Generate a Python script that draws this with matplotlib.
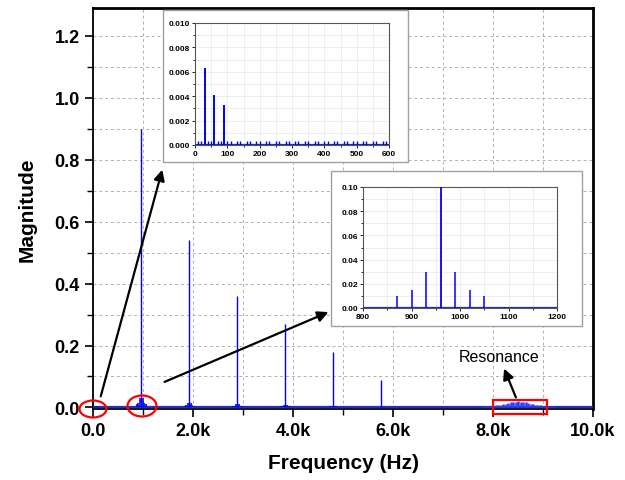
import matplotlib
matplotlib.use('Agg')
import matplotlib.pyplot as plt
import numpy as np
from matplotlib.patches import Rectangle, Ellipse, FancyArrowPatch
from matplotlib.ticker import MultipleLocator, FuncFormatter

plt.rcParams['font.family'] = ['Liberation Sans', 'DejaVu Sans']

# harmonic peaks (Hz, magnitude)
harm_freq = [960, 1920, 2880, 3840, 4800, 5760]
harm_mag = [0.90, 0.54, 0.36, 0.27, 0.18, 0.09]

# sidebands around each harmonic at these offsets
sb_offset = [-90, -60, -30, 30, 60, 90]
sb_mag = [
    [0.010, 0.015, 0.030, 0.030, 0.015, 0.010],
    [0.006, 0.009, 0.015, 0.015, 0.009, 0.006],
    [0.004, 0.006, 0.010, 0.010, 0.006, 0.004],
    [0.004, 0.006, 0.009, 0.009, 0.006, 0.004],
    [0.003, 0.004, 0.006, 0.006, 0.004, 0.003],
    [0.001, 0.002, 0.003, 0.003, 0.002, 0.001],
]

# low frequency lines
low_freq = [30, 60, 90]
low_mag = [0.0063, 0.0041, 0.0033]
comb_freq = [10, 20, 40, 50, 70, 80, 100, 110, 130, 140, 160, 170, 190, 200,
             220, 230, 250, 260, 280, 290, 310, 320, 340, 350, 370, 380, 400,
             410, 430, 440, 460, 470, 490, 500, 520, 530, 550, 560, 580, 590]
comb_mag = 0.0003

# resonance hump
res_freq = np.arange(7500, 9701, 50)
res_mag = [0.002, 0.002, 0.0025, 0.0025, 0.003, 0.003, 0.0035, 0.004, 0.0045,
           0.005, 0.006, 0.007, 0.008, 0.009, 0.011, 0.012, 0.014, 0.016,
           0.018, 0.019, 0.020, 0.019, 0.018, 0.016, 0.014, 0.012, 0.011,
           0.009, 0.008, 0.007, 0.006, 0.005, 0.0045, 0.004, 0.0035, 0.003,
           0.003, 0.0025, 0.0025, 0.002, 0.002, 0.002, 0.0015, 0.0015, 0.0015]

baseline_freq = [0, 10000]
baseline_mag = [0, 0]

W, H = 625, 481
fig = plt.figure(figsize=(6.25, 4.81), dpi=100)


def px(x, y):
    return x / W, 1 - y / H


def draw_spectrum(a, lw_main, lw_side):
    a.plot(baseline_freq, baseline_mag, color='#1f2fbf', lw=1.6, zorder=3)
    a.vlines(harm_freq, 0, harm_mag, color='#0000ff', lw=lw_main, zorder=4)
    for f0, mags in zip(harm_freq, sb_mag):
        a.vlines([f0 + o for o in sb_offset], 0, mags, color='#0000ff', lw=lw_side, zorder=4)
    a.vlines(low_freq, 0, low_mag, color='#0000ff', lw=lw_main, zorder=4)
    a.vlines(comb_freq, 0, comb_mag, color='#0000ff', lw=lw_side, zorder=4)
    a.vlines(res_freq, 0, res_mag, color='#2a3cff', lw=1.8, zorder=4)


# main axes
ax = fig.add_axes([93 / W, 1 - 410 / H, 500 / W, 401 / H])
draw_spectrum(ax, 1.0, 1.2)
ax.set_xlim(0, 10000)
ax.set_ylim(-0.005, 1.29)
ax.xaxis.set_major_locator(MultipleLocator(2000))
ax.xaxis.set_minor_locator(MultipleLocator(1000))
ax.yaxis.set_major_locator(MultipleLocator(0.2))
ax.yaxis.set_minor_locator(MultipleLocator(0.1))
ax.xaxis.set_major_formatter(FuncFormatter(lambda v, p: '0.0' if v == 0 else f'{v / 1000:.1f}k'))
ax.yaxis.set_major_formatter(FuncFormatter(lambda v, p: f'{v:.1f}'))
ax.grid(which='both', ls=(0, (3, 3)), color='#b0b0b0', lw=0.7)
ax.set_axisbelow(True)
ax.tick_params(which='major', direction='out', length=6, width=1.2, labelsize=13)
ax.tick_params(which='minor', direction='out', length=4, width=1.0)
for lab in ax.get_xticklabels() + ax.get_yticklabels():
    lab.set_fontweight('bold')
for s in ['left', 'bottom']:
    ax.spines[s].set_linewidth(1.3)
for s in ['top', 'right']:
    ax.spines[s].set_linewidth(2.0)
ax.set_xlabel('Frequency (Hz)', fontsize=15, fontweight='bold', labelpad=10)
ax.set_ylabel('Magnitude', fontsize=15, fontweight='bold', labelpad=13)
ax.set_zorder(0)

# inset frames
for x0, y0, x1, y1 in [(163, 11, 408, 163), (331, 172, 582, 327)]:
    (fx0, fy1), (fx1, fy0) = px(x0, y0), px(x1, y1)
    r = Rectangle((fx0, fy0), fx1 - fx0, fy1 - fy0, transform=fig.transFigure,
                  facecolor='white', edgecolor='#a0a0a0', lw=1.0, zorder=1)
    fig.add_artist(r)


def style_inset(a):
    a.tick_params(which='both', direction='out', length=2, width=0.6, labelsize=6, pad=1.5)
    a.tick_params(which='minor', length=1.2)
    for lab in a.get_xticklabels() + a.get_yticklabels():
        lab.set_fontweight('bold')
    for s in a.spines.values():
        s.set_color('#555555')
        s.set_linewidth(0.8)
    a.grid(which='both', color='#e8e8e8', lw=0.5)
    a.set_axisbelow(True)
    a.set_zorder(2)


# inset 1: low frequency
ax1 = fig.add_axes([195 / W, 1 - 146 / H, 194 / W, 122 / H])
draw_spectrum(ax1, 1.4, 1.0)
ax1.set_xlim(0, 600)
ax1.set_ylim(0, 0.010)
ax1.xaxis.set_major_locator(MultipleLocator(100))
ax1.xaxis.set_minor_locator(MultipleLocator(50))
ax1.yaxis.set_major_locator(MultipleLocator(0.002))
ax1.yaxis.set_minor_locator(MultipleLocator(0.001))
ax1.yaxis.set_major_formatter(FuncFormatter(lambda v, p: f'{v:.3f}'))
style_inset(ax1)

# inset 2: around fundamental
ax2 = fig.add_axes([363 / W, 1 - 309 / H, 194 / W, 121 / H])
draw_spectrum(ax2, 1.3, 1.1)
ax2.set_xlim(800, 1200)
ax2.set_ylim(0, 0.10)
ax2.xaxis.set_major_locator(MultipleLocator(100))
ax2.xaxis.set_minor_locator(MultipleLocator(50))
ax2.yaxis.set_major_locator(MultipleLocator(0.02))
ax2.yaxis.set_minor_locator(MultipleLocator(0.01))
ax2.yaxis.set_major_formatter(FuncFormatter(lambda v, p: f'{v:.2f}'))
style_inset(ax2)

# red markers
for cx, cy, w, h in [(93, 410, 27, 17), (142, 407, 29, 21)]:
    e = Ellipse(px(cx, cy), w / W, h / H, transform=fig.transFigure,
                fill=False, edgecolor='red', lw=1.6, zorder=3)
    fig.add_artist(e)
(rx0, ry1), (rx1, ry0) = px(493, 401), px(547, 415)
fig.add_artist(Rectangle((rx0, ry0), rx1 - rx0, ry1 - ry0, transform=fig.transFigure,
                         fill=False, edgecolor='red', lw=1.6, zorder=3))

# arrows
for (x0, y0), (x1, y1) in [((100, 400), (163, 168)), ((162, 384), (331, 312)),
                           ((517, 401), (503, 367))]:
    fig.add_artist(FancyArrowPatch(px(x0, y0), px(x1, y1), transform=fig.transFigure,
                                   arrowstyle='-|>', mutation_scale=16, lw=1.6,
                                   color='black', zorder=3))

fig.text(*px(499, 358), 'Resonance', fontsize=11.5, ha='center', va='center', zorder=3)

fig.savefig('out.png', dpi=100)
